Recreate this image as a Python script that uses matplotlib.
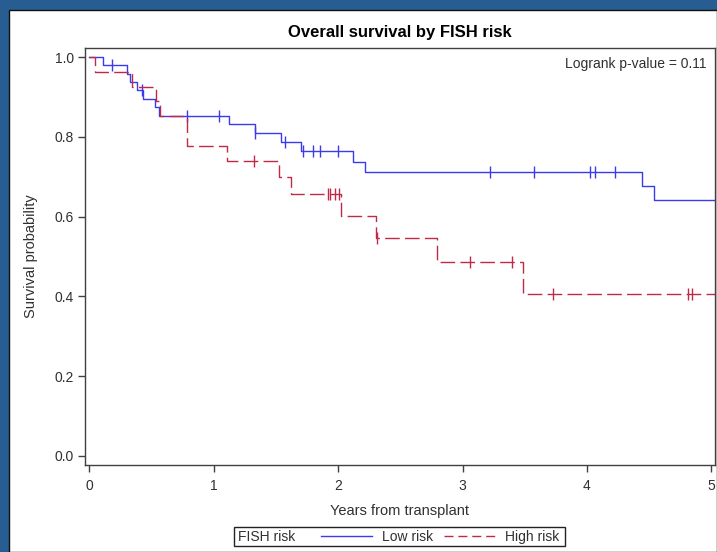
import numpy as np
import matplotlib
matplotlib.use("Agg")
import matplotlib.pyplot as plt
from matplotlib.patches import Rectangle
from matplotlib.lines import Line2D

plt.rcParams['font.family'] = ['Liberation Sans', 'DejaVu Sans']

# ---- data ----
end_time = 5.05

low_times = [0, 0.108, 0.299, 0.328, 0.38, 0.433, 0.523, 0.562, 1.125, 1.334,
             1.54, 1.70, 2.117, 2.219, 4.442, 4.541]
low_surv = [1.0, 0.979, 0.958, 0.938, 0.917, 0.896, 0.875, 0.853, 0.831, 0.810,
            0.787, 0.764, 0.737, 0.711, 0.677, 0.642]
low_censor = [0.18, 0.425, 0.787, 1.04, 1.334, 1.573, 1.718, 1.80, 1.854, 1.997,
              3.222, 3.576, 4.027, 4.064, 4.225]

high_times = [0, 0.042, 0.34, 0.535, 0.567, 0.787, 1.104, 1.52, 1.624, 2.026,
              2.30, 2.793, 3.485]
high_surv = [1.0, 0.963, 0.926, 0.889, 0.852, 0.777, 0.740, 0.700, 0.657, 0.601,
             0.547, 0.486, 0.407]
high_censor = [1.323, 1.919, 1.935, 1.977, 2.01, 2.316, 3.061, 3.394, 3.727,
               4.815, 4.842]

x_ticks = [0, 1, 2, 3, 4, 5]
y_ticks = [0.0, 0.2, 0.4, 0.6, 0.8, 1.0]

title = "Overall survival by FISH risk"
xlabel = "Years from transplant"
ylabel = "Survival probability"
pval_text = "Logrank p-value = 0.11"
legend_title = "FISH risk"
group_labels = ["Low risk", "High risk"]

BLUE = '#3a3aee'
RED = '#c02a48'
TXT = '#303030'

W, H = 717, 552
fig = plt.figure(figsize=(W / 100, H / 100), dpi=100)
fig.patch.set_facecolor('#285d91')
# white panel
panel = Rectangle((9 / W, 0), 1 - 9 / W, 1 - 10 / H, transform=fig.transFigure,
                  facecolor='white', edgecolor='#111111', linewidth=1.0, zorder=-10)
fig.patches.append(panel)

ax = fig.add_axes([85 / W, 1 - 465 / H, (715 - 85) / W, (465 - 48) / H])
ax.set_facecolor('white')
ax.set_zorder(1)


def km_draw(times, surv, censor, color, dashes=None):
    t = list(times) + [end_time]
    s = list(surv) + [surv[-1]]
    ln, = ax.step(t, s, where='post', color=color, lw=1.0)
    if dashes is not None:
        ln.set_dashes(dashes)
    idx = np.searchsorted(np.array(times), np.array(censor), side='right') - 1
    cy = np.array(surv)[idx]
    ax.plot(censor, cy, linestyle='none', marker='|', markersize=9,
            markeredgewidth=1.0, color=color)
    return ln


km_draw(low_times, low_surv, low_censor, BLUE)
km_draw(high_times, high_surv, high_censor, RED, dashes=(10.5, 3.8))

ax.set_xlim(-0.036, 5.03)
ax.set_ylim(-0.0226, 1.0226)
ax.set_xticks(x_ticks)
ax.set_yticks(y_ticks)
ax.set_xticklabels([str(v) for v in x_ticks])
ax.set_yticklabels([f"{v:.1f}" for v in y_ticks])
ax.tick_params(direction='out', length=5, width=1, color='#404040',
               labelsize=10, labelcolor=TXT, pad=3)
ax.tick_params(axis='x', pad=5)
for sp in ax.spines.values():
    sp.set_color('#404040')
    sp.set_linewidth(1.0)

ax.set_xlabel(xlabel, fontsize=10.5, color=TXT, labelpad=8)
ax.set_ylabel(ylabel, fontsize=10.5, color=TXT, labelpad=12)

ax.text(0.987, 0.962, pval_text, transform=ax.transAxes, ha='right', va='center',
        fontsize=10, color=TXT)

fig.text(400 / W, 1 - 32 / H, title, ha='center', va='center', fontsize=12,
         fontweight='bold', color='black')

# legend box
bx0, bx1, by0, by1 = 234, 565, 527, 546
fig.patches.append(Rectangle((bx0 / W, 1 - by1 / H), (bx1 - bx0) / W, (by1 - by0) / H,
                             transform=fig.transFigure, facecolor='white',
                             edgecolor='#222222', linewidth=1.0, zorder=2))
fig.text(238 / W, 1 - 537 / H, legend_title, ha='left', va='center', fontsize=10,
         color=TXT, zorder=3)
h_low = Line2D([], [], color=BLUE, lw=1.0)
h_high = Line2D([], [], color=RED, lw=1.0, dashes=(6.5, 3.5))
leg = fig.legend([h_low, h_high], group_labels, ncol=2, frameon=False,
                 loc='center left', bbox_to_anchor=(321 / W, 1 - 537 / H),
                 fontsize=10, handlelength=3.7, handletextpad=0.7, columnspacing=0.75,
                 borderpad=0, borderaxespad=0, labelcolor=TXT)
leg.set_zorder(4)

fig.savefig('out.png', dpi=100, facecolor=fig.get_facecolor())
